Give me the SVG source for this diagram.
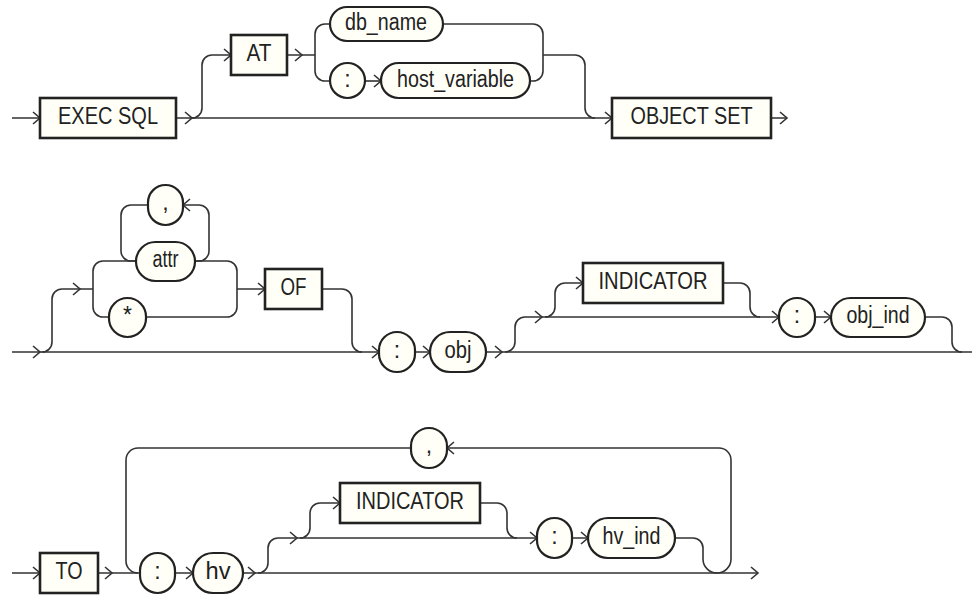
<svg xmlns="http://www.w3.org/2000/svg" xmlns:xlink="http://www.w3.org/1999/xlink" width="972" height="595" viewBox="0 0 972 595">
<style>
.c{fill:none;stroke:#333;stroke-width:1.6}
.a{fill:none;stroke:#333;stroke-width:1.6;stroke-linejoin:miter}
.box{fill:#fffff7;stroke:#222;stroke-width:2.6}
.pill{fill:#fffff7;stroke:#222;stroke-width:2.2}
text{font-family:"Liberation Sans",Arial,sans-serif;font-size:23px;fill:#222;text-anchor:middle}
</style>
<defs>
<path id="ar" class="a" d="M-7,-6 L0,0 L-7,6"/>
<path id="al" class="a" d="M7,-6 L0,0 L7,6"/>
</defs>
<g id="connectors">
<!-- row 1 -->
<path class="c" d="M12,118 H40 M176,118 H612 M771,118 H787"/>
<path class="c" d="M192,118 A10,10 0 0 0 202,108 V65 A10,10 0 0 1 212,55 H231"/>
<path class="c" d="M287,55 H315 M315,55 V34 A10,10 0 0 1 325,24 H330 M315,55 V71 A10,10 0 0 0 325,81 H330"/>
<path class="c" d="M365,81 H381"/>
<path class="c" d="M443,24 H533 A10,10 0 0 1 543,34 V71 A10,10 0 0 1 533,81 H530"/>
<path class="c" d="M543,55 H575 A10,10 0 0 1 585,65 V108 A10,10 0 0 0 595,118"/>
<use href="#ar" x="40" y="118"/><use href="#ar" x="192" y="118"/><use href="#ar" x="231" y="55"/>
<use href="#ar" x="302" y="55"/><use href="#ar" x="381" y="81"/><use href="#ar" x="612" y="118"/>
<use href="#ar" x="787" y="118"/>
<!-- row 2 -->
<path class="c" d="M12,352 H379 M415,352 H430 M486,352 H972"/>
<path class="c" d="M42,352 A10,10 0 0 0 52,342 V299 A10,10 0 0 1 62,289 H93"/>
<path class="c" d="M93,289 V271 A10,10 0 0 1 103,261 H136 M93,289 V307 A10,10 0 0 0 103,317 H109"/>
<path class="c" d="M148,205 H131 A10,10 0 0 0 121,215 V251 A10,10 0 0 0 131,261 H136"/>
<path class="c" d="M195,261 H199 A10,10 0 0 0 209,251 V215 A10,10 0 0 0 199,205 H183"/>
<path class="c" d="M195,261 H227 A10,10 0 0 1 237,271 V307 A10,10 0 0 1 227,317 H146 M237,289 H265"/>
<path class="c" d="M322,289 H342 A10,10 0 0 1 352,299 V342 A10,10 0 0 0 362,352"/>
<path class="c" d="M505,352 A10,10 0 0 0 515,342 V327 A10,10 0 0 1 525,317 H779"/>
<path class="c" d="M545,317 A10,10 0 0 0 555,307 V293 A10,10 0 0 1 565,283 H583"/>
<path class="c" d="M723,283 H740 A10,10 0 0 1 750,293 V307 A10,10 0 0 0 760,317"/>
<path class="c" d="M815,317 H831 M925,317 H942 A10,10 0 0 1 952,327 V342 A10,10 0 0 0 962,352"/>
<use href="#ar" x="40" y="352"/><use href="#ar" x="80" y="289"/><use href="#ar" x="265" y="289"/>
<use href="#al" x="183" y="205"/><use href="#ar" x="379" y="352"/><use href="#ar" x="430" y="352"/>
<use href="#ar" x="502" y="352"/><use href="#ar" x="542" y="317"/><use href="#ar" x="583" y="283"/>
<use href="#ar" x="779" y="317"/><use href="#ar" x="831" y="317"/>
<!-- row 3 -->
<path class="c" d="M12,573 H40 M98,573 H140 M175,573 H193 M243,573 H758"/>
<path class="c" d="M258,573 A10,10 0 0 0 268,563 V548 A10,10 0 0 1 278,538 H537"/>
<path class="c" d="M300,538 A10,10 0 0 0 310,528 V513 A10,10 0 0 1 320,503 H340"/>
<path class="c" d="M480,503 H497 A10,10 0 0 1 507,513 V528 A10,10 0 0 0 517,538"/>
<path class="c" d="M572,538 H588 M675,538 H693 A10,10 0 0 1 703,548 V559 A14,14 0 0 0 717,573 A14,14 0 0 0 731,559 V460 A12,12 0 0 0 719,448 H447"/>
<path class="c" d="M411,448 H138 A12,12 0 0 0 126,460 V561 A12,12 0 0 0 138,573"/>
<use href="#ar" x="40" y="573"/><use href="#ar" x="112" y="573"/><use href="#ar" x="193" y="573"/>
<use href="#ar" x="255" y="573"/><use href="#ar" x="297" y="538"/><use href="#ar" x="340" y="503"/>
<use href="#ar" x="537" y="538"/><use href="#ar" x="588" y="538"/><use href="#ar" x="758" y="573"/>
<use href="#al" x="447" y="448"/>
</g>
<!-- row 1 nodes -->
<g id="n-exec-sql"><rect class="box" x="40" y="98" width="136" height="40"/><text x="108" y="123.5" textLength="100" lengthAdjust="spacingAndGlyphs">EXEC SQL</text></g>
<g id="n-at"><rect class="box" x="231" y="35" width="56" height="40"/><text x="259" y="60.5" textLength="25" lengthAdjust="spacingAndGlyphs">AT</text></g>
<g id="n-db-name"><rect class="pill" x="330" y="7" width="113" height="34" rx="17"/><text x="386" y="29.5" textLength="82" lengthAdjust="spacingAndGlyphs">db_name</text></g>
<g id="n-colon1"><rect class="pill" x="330" y="63" width="35" height="35" rx="17.5"/><text x="347.5" y="86.5">:</text></g>
<g id="n-host-variable"><rect class="pill" x="381" y="63" width="149" height="35" rx="17.5"/><text x="455.5" y="86.5" textLength="117" lengthAdjust="spacingAndGlyphs">host_variable</text></g>
<g id="n-object-set"><rect class="box" x="612" y="98" width="159" height="40"/><text x="691.5" y="123.5" textLength="122" lengthAdjust="spacingAndGlyphs">OBJECT SET</text></g>
<!-- row 2 nodes -->
<g id="n-comma1"><rect class="pill" x="148" y="185" width="35" height="40" rx="17.5"/><text x="165.5" y="210">,</text></g>
<g id="n-attr"><rect class="pill" x="136" y="242" width="59" height="39" rx="19.5"/><text x="165.5" y="267" textLength="26" lengthAdjust="spacingAndGlyphs">attr</text></g>
<g id="n-star"><rect class="pill" x="109" y="298" width="37" height="39" rx="18.5"/><text x="127.5" y="323">*</text></g>
<g id="n-of"><rect class="box" x="265" y="269" width="57" height="40"/><text x="293.5" y="294.5" textLength="26" lengthAdjust="spacingAndGlyphs">OF</text></g>
<g id="n-colon2"><rect class="pill" x="379" y="332" width="36" height="40" rx="18"/><text x="397" y="357.5">:</text></g>
<g id="n-obj"><rect class="pill" x="430" y="332" width="56" height="40" rx="20"/><text x="458" y="357.5" textLength="27" lengthAdjust="spacingAndGlyphs">obj</text></g>
<g id="n-indicator1"><rect class="box" x="583" y="263" width="140" height="40"/><text x="653" y="288.5" textLength="109" lengthAdjust="spacingAndGlyphs">INDICATOR</text></g>
<g id="n-colon3"><rect class="pill" x="779" y="298" width="36" height="39" rx="18"/><text x="797" y="323">:</text></g>
<g id="n-obj-ind"><rect class="pill" x="831" y="298" width="94" height="39" rx="19.5"/><text x="878" y="323" textLength="63" lengthAdjust="spacingAndGlyphs">obj_ind</text></g>
<!-- row 3 nodes -->
<g id="n-to"><rect class="box" x="40" y="553" width="58" height="40"/><text x="69" y="578.5" textLength="27" lengthAdjust="spacingAndGlyphs">TO</text></g>
<g id="n-colon4"><rect class="pill" x="140" y="553" width="35" height="40" rx="17.5"/><text x="157.5" y="578.5">:</text></g>
<g id="n-hv"><rect class="pill" x="193" y="553" width="50" height="40" rx="20"/><text x="218" y="578.5" textLength="25" lengthAdjust="spacingAndGlyphs">hv</text></g>
<g id="n-comma2"><rect class="pill" x="411" y="428" width="36" height="40" rx="18"/><text x="429" y="453">,</text></g>
<g id="n-indicator2"><rect class="box" x="340" y="483" width="140" height="40"/><text x="410" y="508.5" textLength="108" lengthAdjust="spacingAndGlyphs">INDICATOR</text></g>
<g id="n-colon5"><rect class="pill" x="537" y="518" width="35" height="40" rx="17.5"/><text x="554.5" y="543.5">:</text></g>
<g id="n-hv-ind"><rect class="pill" x="588" y="518" width="87" height="40" rx="20"/><text x="631.5" y="543.5" textLength="58" lengthAdjust="spacingAndGlyphs">hv_ind</text></g>
</svg>
